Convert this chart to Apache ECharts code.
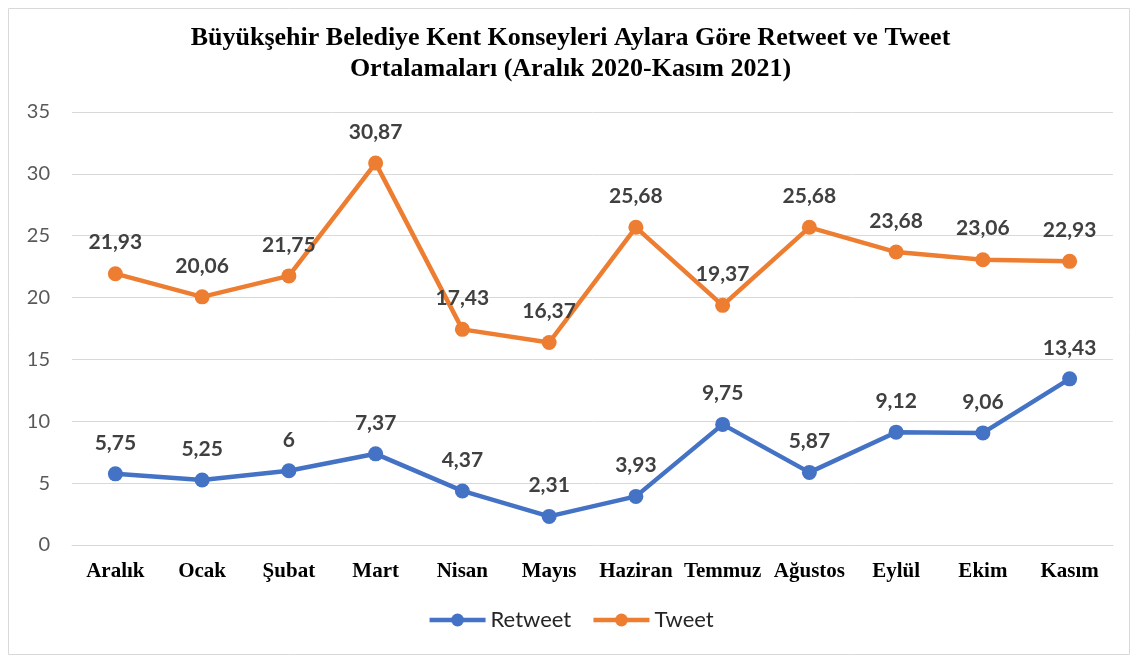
<!DOCTYPE html>
<html>
<head>
<meta charset="utf-8">
<script src="https://cdn.jsdelivr.net/npm/echarts@6/dist/echarts.min.js"></script>
<style>
  html, body { margin: 0; padding: 0; background: #fff; }
  #chart { width: 1141px; height: 661px; }
</style>
</head>
<body>
<div id="chart"></div>
<script>
var months = ['Aralık', 'Ocak', 'Şubat', 'Mart', 'Nisan', 'Mayıs', 'Haziran', 'Temmuz', 'Ağustos', 'Eylül', 'Ekim', 'Kasım']
var retweet = [5.75, 5.25, 6, 7.37, 4.37, 2.31, 3.93, 9.75, 5.87, 9.12, 9.06, 13.43]
var tweet = [21.93, 20.06, 21.75, 30.87, 17.43, 16.37, 25.68, 19.37, 25.68, 23.68, 23.06, 22.93]

var chart = echarts.init(document.getElementById('chart'))

function fmt(p) {
  return String(p.value).replace('.', ',')
}

function lineSeries(name, color, data) {
  return {
    name: name,
    type: 'line',
    data: data,
    symbol: 'circle',
    symbolSize: 15,
    lineStyle: { color: color, width: 4.5 },
    itemStyle: { color: color },
    label: {
      show: true,
      position: 'top',
      distance: 13,
      formatter: fmt,
      fontFamily: 'Lato',
      fontWeight: 'bold',
      fontSize: 21,
      color: '#404040'
    },
    animation: false
  }
}

chart.setOption({
  title: {
    text: 'Büyükşehir Belediye Kent Konseyleri Aylara Göre Retweet ve Tweet\nOrtalamaları (Aralık 2020-Kasım 2021)',
    left: 'center',
    top: 18,
    textStyle: {
      fontFamily: 'Liberation Serif',
      fontWeight: 'bold',
      fontSize: 26,
      lineHeight: 31,
      color: '#000'
    }
  },
  graphic: [{
    type: 'rect',
    shape: { x: 8.5, y: 8.5, width: 1121, height: 646 },
    style: { fill: 'none', stroke: '#d9d9d9', lineWidth: 1 },
    silent: true
  }],
  grid: { left: 72, right: 28, top: 112, bottom: 116 },
  legend: {
    bottom: 25,
    left: 'center',
    itemWidth: 56,
    itemHeight: 16,
    itemGap: 20,
    lineStyle: { width: 4.5 },
    textStyle: { fontFamily: 'Lato', fontSize: 22, color: '#262626' },
    data: ['Retweet', 'Tweet']
  },
  xAxis: {
    type: 'category',
    data: months,
    boundaryGap: true,
    axisLine: { lineStyle: { color: '#d9d9d9', width: 1 } },
    axisTick: { show: false },
    axisLabel: {
      interval: 0,
      margin: 16,
      fontFamily: 'Liberation Serif',
      fontWeight: 'bold',
      fontSize: 21,
      color: '#000'
    }
  },
  yAxis: {
    type: 'value',
    min: 0,
    max: 35,
    interval: 5,
    axisLine: { show: false },
    axisTick: { show: false },
    splitLine: { lineStyle: { color: '#d9d9d9', width: 1 } },
    axisLabel: {
      margin: 22,
      fontFamily: 'Lato',
      fontSize: 20,
      color: '#595959'
    }
  },
  series: [
    lineSeries('Retweet', '#4472c4', retweet),
    lineSeries('Tweet', '#ed7d31', tweet)
  ]
})
</script>
</body>
</html>
